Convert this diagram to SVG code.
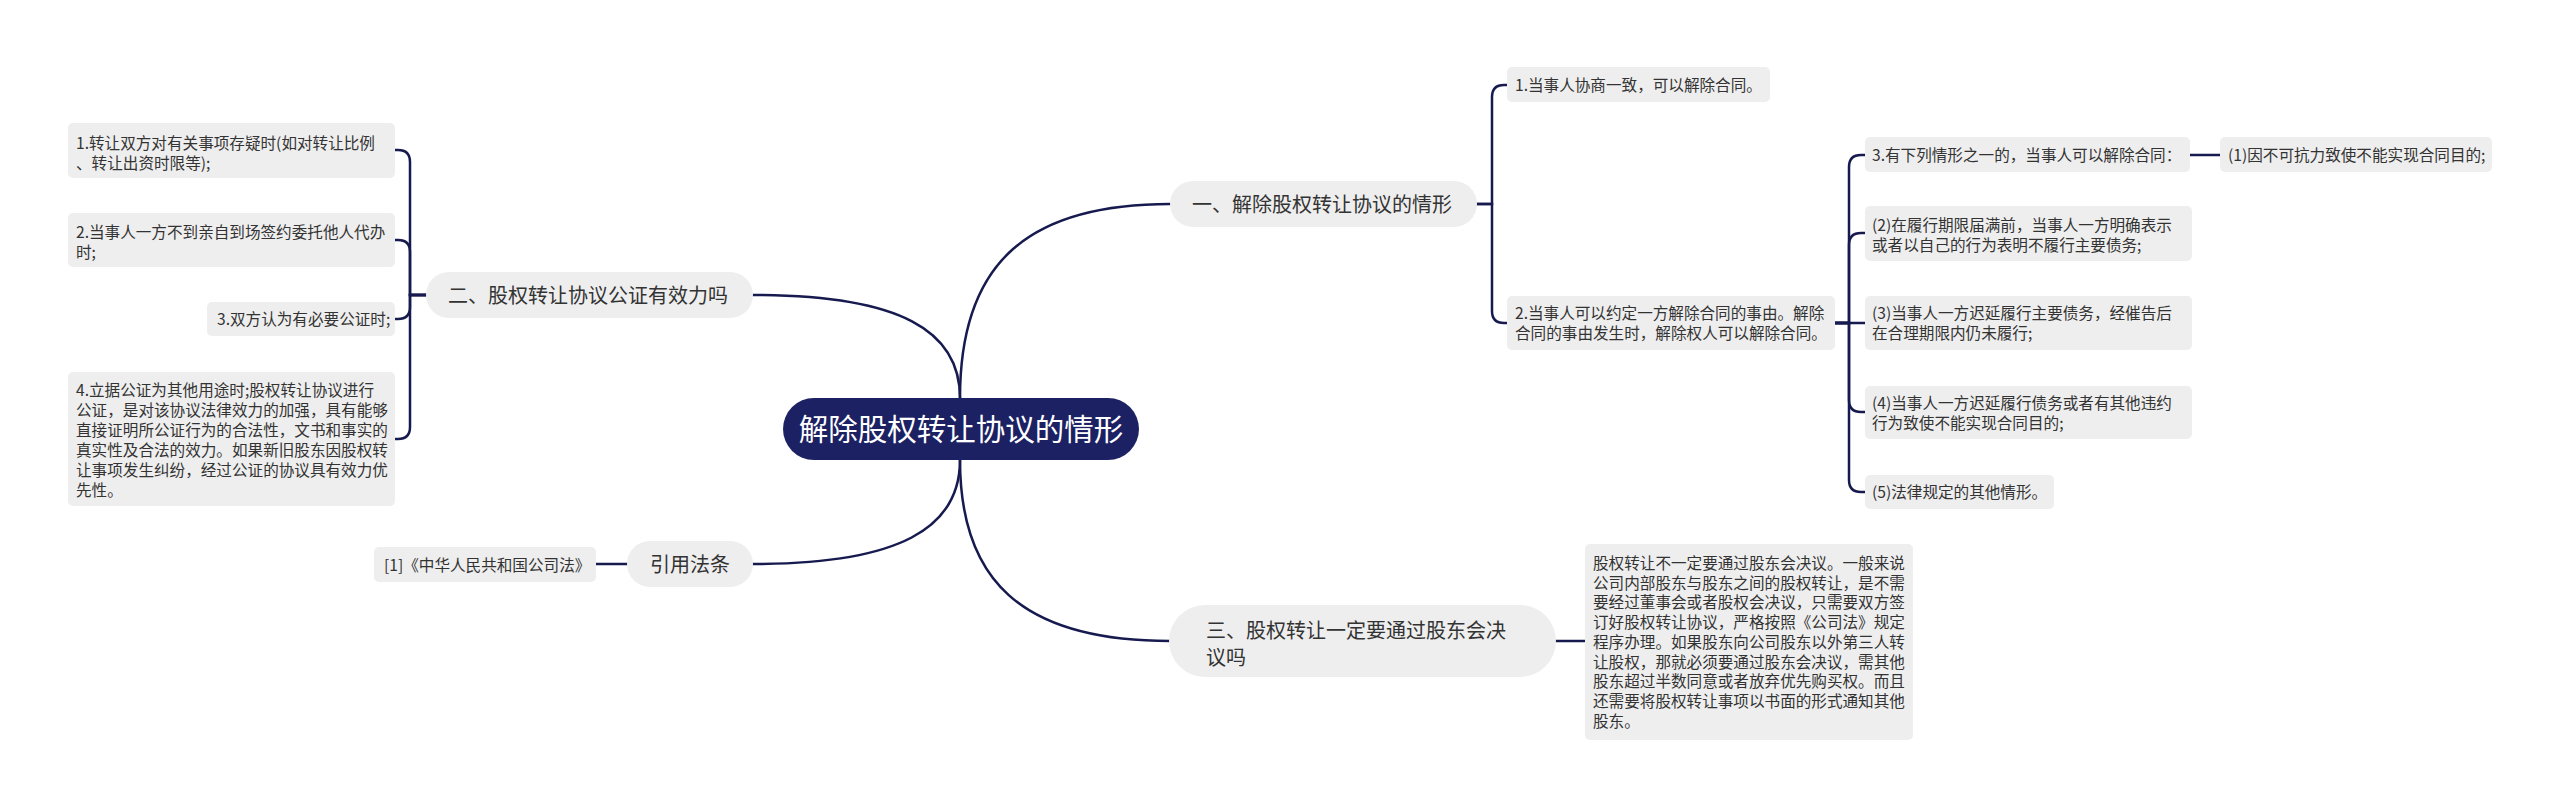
<svg xmlns="http://www.w3.org/2000/svg" width="2560" height="807" viewBox="0 0 2560 807">
<style>
.bg{fill:#ffffff}
.leaf{fill:#eeeeee}
.node{fill:#eeeeee}
.root{fill:#1c2163}
.lt{font-family:"Noto Sans CJK SC","Noto Sans",sans-serif;font-size:15.6px;fill:#333333}
.nt{font-family:"Noto Sans CJK SC","Noto Sans",sans-serif;font-size:20px;fill:#333333}
.rt{font-family:"Noto Sans CJK SC","Noto Sans",sans-serif;font-size:29.5px;fill:#ffffff}
.ln{fill:none;stroke:#161a4e;stroke-width:2.5;stroke-linecap:round}
</style>
<rect class="bg" x="0" y="0" width="2560" height="807"/>
<g id="connectors">
<path class="ln" d="M960 398 C960 270 1020 204 1170 204"/>
<path class="ln" d="M960 398 C960 331 901 295 753 295"/>
<path class="ln" d="M960 460 C960 528 900 564 753 564"/>
<path class="ln" d="M960 460 C960 579 1020 641 1170 641"/>
<path class="ln" d="M426 295 H410 V162 Q410 150 398 150 H395"/>
<path class="ln" d="M426 295 H410 V252 Q410 240 398 240 H395"/>
<path class="ln" d="M426 295 H410 V307 Q410 319 398 319 H395"/>
<path class="ln" d="M426 295 H410 V427 Q410 439 398 439 H395"/>
<path class="ln" d="M596 564 H627"/>
<path class="ln" d="M1477 204 H1492 V97 Q1492 85 1504 85 H1507"/>
<path class="ln" d="M1477 204 H1492 V311 Q1492 323 1504 323 H1507"/>
<path class="ln" d="M1835 323 H1849 V167 Q1849 155 1861 155 H1865"/>
<path class="ln" d="M1835 323 H1849 V245 Q1849 233 1861 233 H1865"/>
<path class="ln" d="M1835 323 H1865"/>
<path class="ln" d="M1835 323 H1849 V400 Q1849 412 1861 412 H1865"/>
<path class="ln" d="M1835 323 H1849 V480 Q1849 492 1861 492 H1865"/>
<path class="ln" d="M2190 155 H2220"/>
<path class="ln" d="M1556 641 H1585"/>
</g>
<g id="root">
<rect class="root" x="783" y="398" width="356" height="62" rx="31"/>
<text class="rt" x="961" y="440" text-anchor="middle">解除股权转让协议的情形</text>
</g>
<g id="n1">
<rect class="node" x="1170" y="181" width="307" height="46" rx="23"/>
<text class="nt" x="1192" y="211.5">一、解除股权转让协议的情形</text>
</g>
<g id="n2">
<rect class="node" x="426" y="272" width="327" height="46" rx="23"/>
<text class="nt" x="448" y="302.5">二、股权转让协议公证有效力吗</text>
</g>
<g id="n-cite">
<rect class="node" x="627" y="541" width="126" height="46" rx="23"/>
<text class="nt" x="690" y="571.5" text-anchor="middle">引用法条</text>
</g>
<g id="n3">
<rect class="node" x="1169" y="605" width="387" height="72" rx="36"/>
<text class="nt" x="1206" y="637.5">三、股权转让一定要通过股东会决</text>
<text class="nt" x="1206" y="664.5">议吗</text>
</g>
<g id="l1">
<rect class="leaf" x="68" y="123" width="327" height="55" rx="5"/>
<text class="lt" x="76" y="149">1.转让双方对有关事项存疑时(如对转让比例</text>
<text class="lt" x="76" y="169">、转让出资时限等);</text>
</g>
<g id="l2">
<rect class="leaf" x="68" y="213" width="327" height="54" rx="5"/>
<text class="lt" x="76" y="238">2.当事人一方不到亲自到场签约委托他人代办</text>
<text class="lt" x="76" y="258">时;</text>
</g>
<g id="l3">
<rect class="leaf" x="207" y="302" width="188" height="34" rx="5"/>
<text class="lt" x="217" y="325">3.双方认为有必要公证时;</text>
</g>
<g id="l4">
<rect class="leaf" x="68" y="372" width="327" height="134" rx="5"/>
<text class="lt" x="76" y="396">4.立据公证为其他用途时;股权转让协议进行</text>
<text class="lt" x="76" y="416">公证，是对该协议法律效力的加强，具有能够</text>
<text class="lt" x="76" y="436">直接证明所公证行为的合法性，文书和事实的</text>
<text class="lt" x="76" y="456">真实性及合法的效力。如果新旧股东因股权转</text>
<text class="lt" x="76" y="476">让事项发生纠纷，经过公证的协议具有效力优</text>
<text class="lt" x="76" y="496">先性。</text>
</g>
<g id="cite">
<rect class="leaf" x="374" y="547" width="222" height="35" rx="5"/>
<text class="lt" x="384" y="570.5">[1]《中华人民共和国公司法》</text>
</g>
<g id="r1">
<rect class="leaf" x="1507" y="67" width="263" height="35" rx="5"/>
<text class="lt" x="1515" y="91">1.当事人协商一致，可以解除合同。</text>
</g>
<g id="r2">
<rect class="leaf" x="1507" y="296" width="328" height="54" rx="5"/>
<text class="lt" x="1515" y="319">2.当事人可以约定一方解除合同的事由。解除</text>
<text class="lt" x="1515" y="339">合同的事由发生时，解除权人可以解除合同。</text>
</g>
<g id="s1">
<rect class="leaf" x="1865" y="137" width="325" height="35" rx="5"/>
<text class="lt" x="1872" y="161">3.有下列情形之一的，当事人可以解除合同：</text>
</g>
<g id="t1">
<rect class="leaf" x="2220" y="137" width="272" height="35" rx="5"/>
<text class="lt" x="2228" y="161">(1)因不可抗力致使不能实现合同目的;</text>
</g>
<g id="s2">
<rect class="leaf" x="1865" y="206" width="327" height="55" rx="5"/>
<text class="lt" x="1872" y="231">(2)在履行期限届满前，当事人一方明确表示</text>
<text class="lt" x="1872" y="251">或者以自己的行为表明不履行主要债务;</text>
</g>
<g id="s3">
<rect class="leaf" x="1865" y="296" width="327" height="54" rx="5"/>
<text class="lt" x="1872" y="319">(3)当事人一方迟延履行主要债务，经催告后</text>
<text class="lt" x="1872" y="339">在合理期限内仍未履行;</text>
</g>
<g id="s4">
<rect class="leaf" x="1865" y="386" width="327" height="53" rx="5"/>
<text class="lt" x="1872" y="409">(4)当事人一方迟延履行债务或者有其他违约</text>
<text class="lt" x="1872" y="429">行为致使不能实现合同目的;</text>
</g>
<g id="s5">
<rect class="leaf" x="1865" y="475" width="189" height="34" rx="5"/>
<text class="lt" x="1872" y="498">(5)法律规定的其他情形。</text>
</g>
<g id="x1">
<rect class="leaf" x="1585" y="544" width="328" height="196" rx="5"/>
<text class="lt" x="1593" y="569">股权转让不一定要通过股东会决议。一般来说</text>
<text class="lt" x="1593" y="588.7">公司内部股东与股东之间的股权转让，是不需</text>
<text class="lt" x="1593" y="608.4">要经过董事会或者股权会决议，只需要双方签</text>
<text class="lt" x="1593" y="628.1">订好股权转让协议，严格按照《公司法》规定</text>
<text class="lt" x="1593" y="647.8">程序办理。如果股东向公司股东以外第三人转</text>
<text class="lt" x="1593" y="667.5">让股权，那就必须要通过股东会决议，需其他</text>
<text class="lt" x="1593" y="687.2">股东超过半数同意或者放弃优先购买权。而且</text>
<text class="lt" x="1593" y="706.9">还需要将股权转让事项以书面的形式通知其他</text>
<text class="lt" x="1593" y="726.6">股东。</text>
</g>
</svg>
